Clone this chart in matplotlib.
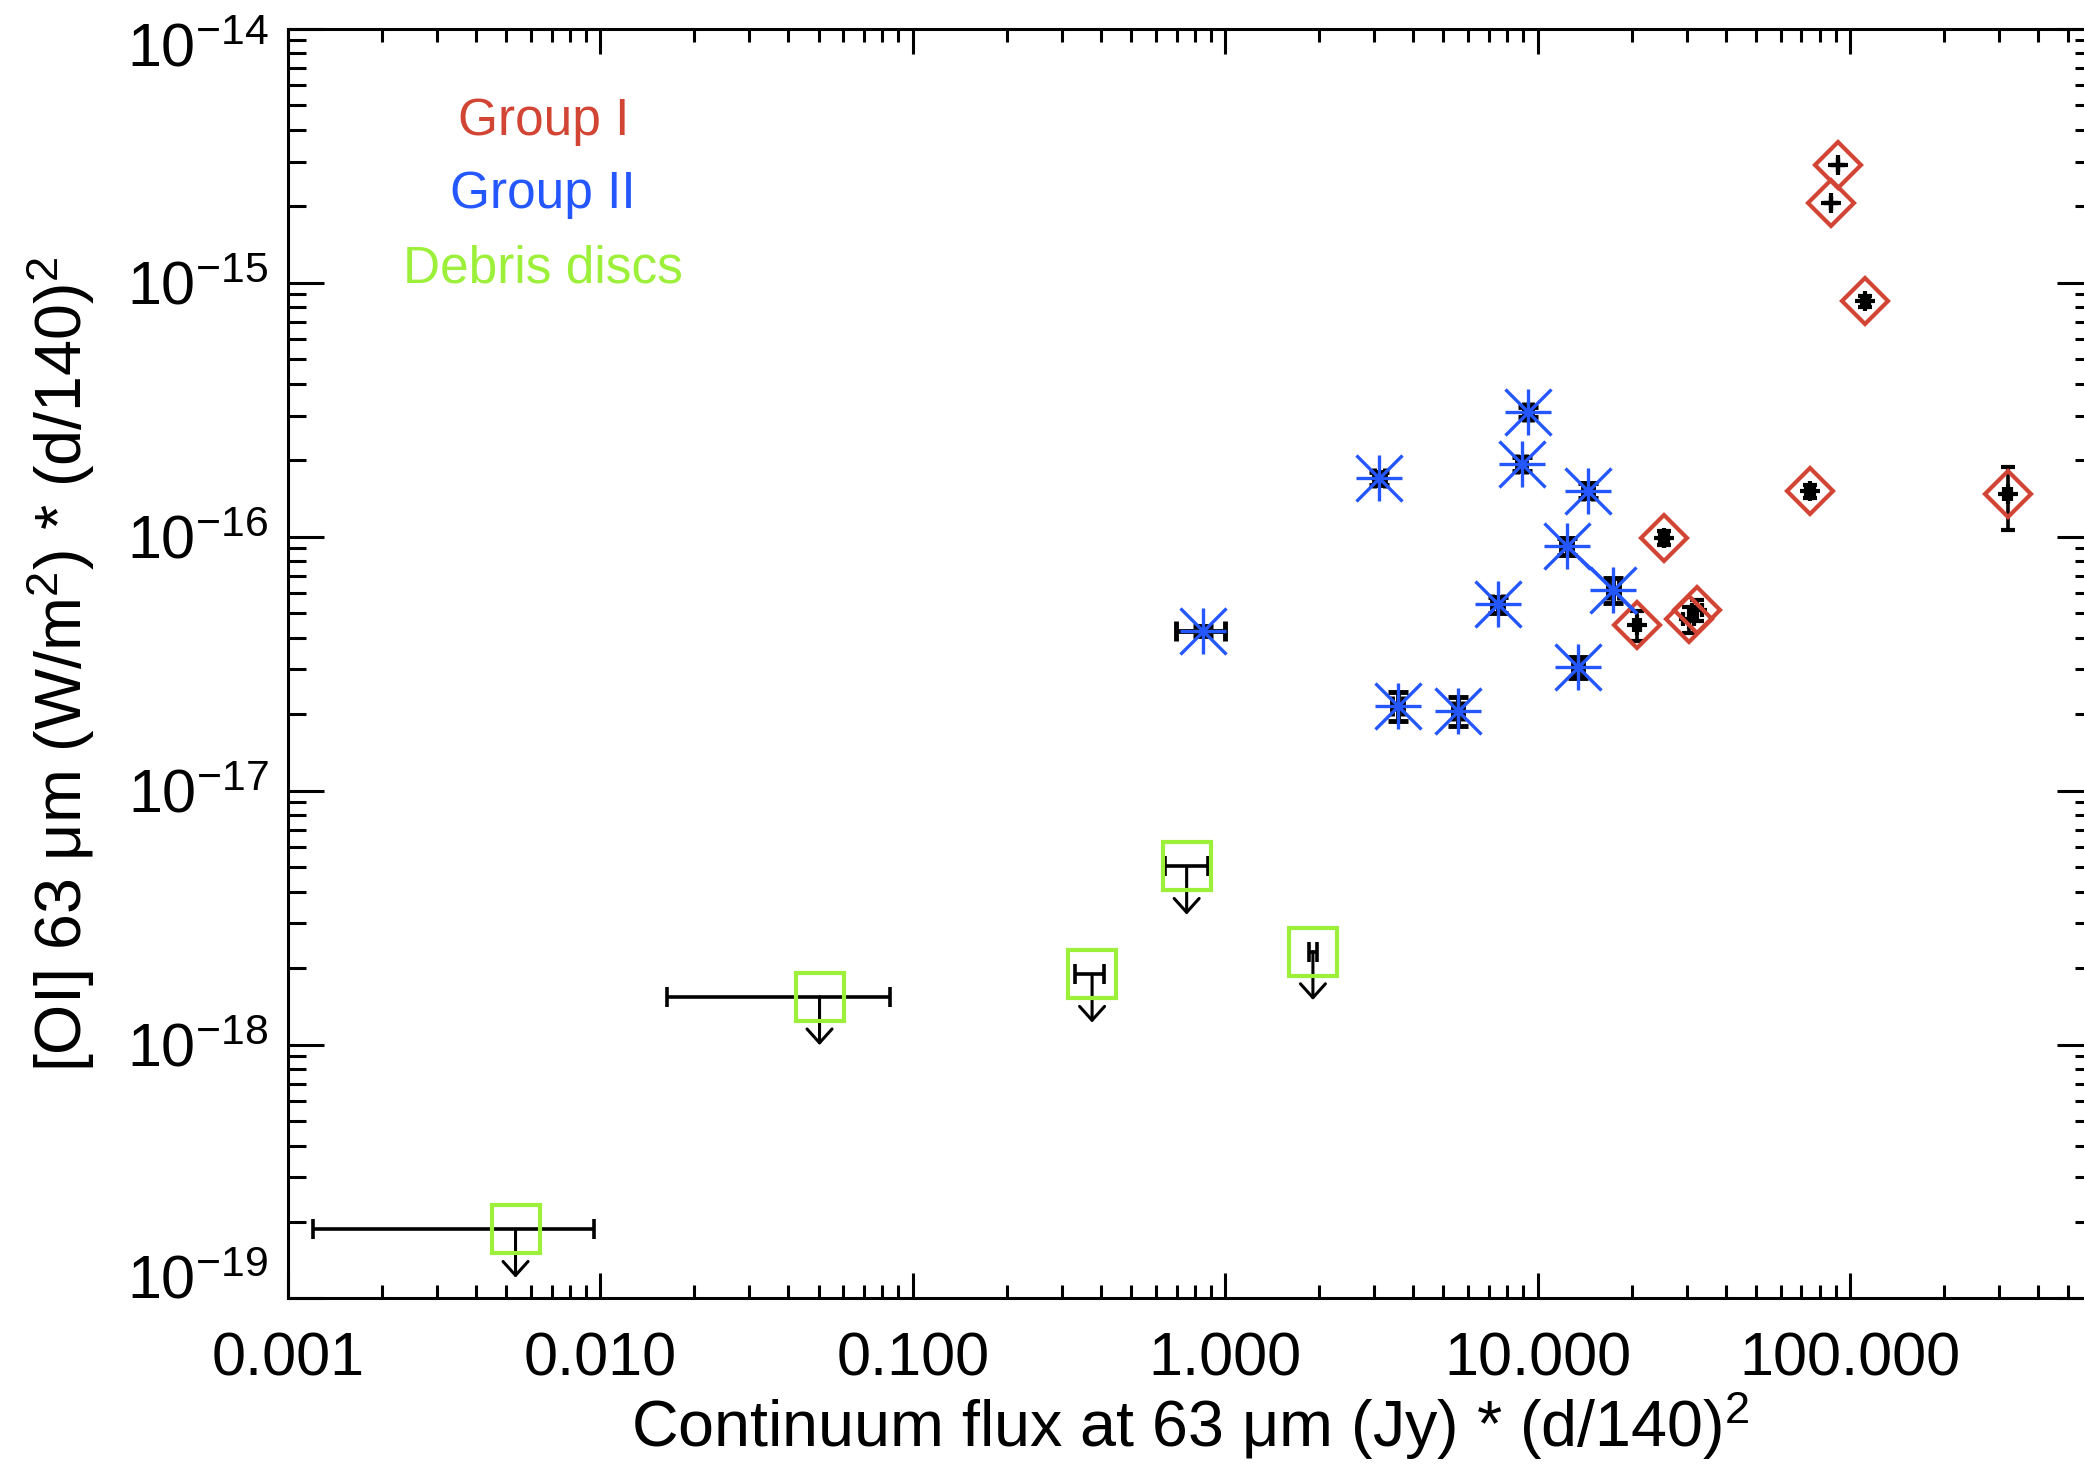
import matplotlib
matplotlib.use('Agg')
import matplotlib.pyplot as plt
import matplotlib.transforms as mtransforms
import numpy as np

plt.rcParams['font.family'] = ['Liberation Sans', 'DejaVu Sans']
plt.rcParams['mathtext.fontset'] = 'custom'
plt.rcParams['mathtext.rm'] = 'Liberation Sans'
plt.rcParams['mathtext.it'] = 'Liberation Sans'
plt.rcParams['mathtext.default'] = 'regular'

# Group I (red diamonds)
g1_x = [91.6, 87.0, 112.0, 74.5, 320.0, 25.4, 20.8, 30.5, 32.4]
g1_y = [2.92e-15, 2.06e-15, 8.45e-16, 1.51e-16, 1.47e-16, 9.9e-17, 4.5e-17, 4.73e-17, 5.15e-17]
g1_xerr = [0.0, 0.0, 3.0, 2.0, 8.0, 0.8, 0.5, 1.2, 1.2]
g1_yerr = [0.0, 0.0, 0.04e-15, 0.085e-16, 0.41e-16, 0.06e-16, 0.6e-17, 0.55e-17, 0.5e-17]

# Group II (blue asterisks)
g2_x = [0.847, 3.12, 9.33, 8.89, 14.5, 12.4, 17.5, 7.45, 13.5, 3.57, 5.56]
g2_y = [4.25e-17, 1.70e-16, 3.10e-16, 1.94e-16, 1.52e-16, 9.19e-17, 6.18e-17,
        5.41e-17, 3.07e-17, 2.16e-17, 2.06e-17]
g2_xerr = [0.15, 0.12, 0.3, 0.3, 0.5, 0.5, 0.7, 0.3, 0.5, 0.15, 0.2]
g2_yerr = [0.2e-17, 0.1e-16, 0.15e-16, 0.12e-16, 0.1e-16, 0.7e-17, 0.7e-17,
           0.4e-17, 0.3e-17, 0.28e-17, 0.27e-17]
# short blue connector
link_x = [12.4, 17.5, 20.7]
link_y = [9.19e-17, 6.18e-17, 5.03e-17]

# Debris discs (green squares, upper limits)
dd_x = [0.00535, 0.0503, 0.375, 0.753, 1.91]
dd_y = [1.87e-19, 1.54e-18, 1.89e-18, 5.03e-18, 2.32e-18]
dd_xlo = [0.00415, 0.034, 0.045, 0.113, 0.06]
dd_xhi = [0.00418, 0.0345, 0.035, 0.127, 0.06]

xticks = [0.001, 0.01, 0.1, 1, 10, 100]
xticklabels = ['0.001', '0.010', '0.100', '1.000', '10.000', '100.000']
yticks = [1e-19, 1e-18, 1e-17, 1e-16, 1e-15, 1e-14]

c_red = '#d24434'
c_blue = '#2457ff'
c_green = '#9cf03a'

fig = plt.figure(figsize=(20.84, 14.65), dpi=100)
ax = fig.add_axes([0.1382, 0.1137, 0.8661, 0.8666])
ax.set_xscale('log')
ax.set_yscale('log')
ax.set_xlim(0.001, 600)
ax.set_ylim(1e-19, 1e-14)

# group I
ax.errorbar(g1_x, g1_y, xerr=g1_xerr, yerr=g1_yerr, fmt='+', color='k', ms=15, mew=3,
            elinewidth=2.6, capsize=5, capthick=2.6, zorder=2)
ax.plot(g1_x, g1_y, 'D', ms=23, mfc='none', mec=c_red, mew=3, zorder=3)

# group II
ax.errorbar(g2_x, g2_y, xerr=g2_xerr, yerr=g2_yerr, fmt='none', ecolor='k',
            elinewidth=3.5, capsize=7, capthick=3.5, zorder=2)
ax.plot(link_x, link_y, '-', color=c_blue, lw=2.4, zorder=3)
ax.plot(g2_x, g2_y, '+', ms=33, mec=c_blue, mew=2.4, zorder=3)
ax.plot(g2_x, g2_y, 'x', ms=33, mec=c_blue, mew=2.4, zorder=3)

# debris discs
ax.errorbar(dd_x, dd_y, xerr=[dd_xlo, dd_xhi], fmt='none', ecolor='k',
            elinewidth=2.6, capsize=7, capthick=2.6, zorder=2)
for x, y in zip(dd_x, dd_y):
    ax.annotate('', xy=(x, y / 10 ** 0.19), xytext=(x, y),
                arrowprops=dict(arrowstyle='->, head_length=0.4, head_width=0.36',
                                lw=2.2, color='k', shrinkA=0, shrinkB=0,
                                mutation_scale=25), zorder=2)
ax.plot(dd_x, dd_y, 's', ms=34, mfc='none', mec=c_green, mew=3, zorder=3)

# legend text
ax.text(0.1414, 0.9165, 'Group I', color=c_red, fontsize=37, ha='center',
        va='baseline', transform=ax.transAxes)
ax.text(0.1414, 0.859, 'Group II', color=c_blue, fontsize=37, ha='center',
        va='baseline', transform=ax.transAxes)
ax.text(0.1414, 0.800, 'Debris discs', color=c_green, fontsize=37, ha='center',
        va='baseline', transform=ax.transAxes)

ax.set_xticks(xticks)
ax.set_xticklabels(xticklabels)
ax.set_yticks(yticks)
for s in ax.spines.values():
    s.set_linewidth(2.2)
ax.tick_params(axis='both', which='both', direction='in', top=True, right=True,
               width=2.2, labelsize=44)
ax.tick_params(axis='x', which='major', length=18, pad=24)
ax.tick_params(axis='x', which='minor', length=9.4)
ax.tick_params(axis='y', which='major', length=26, pad=14)
ax.tick_params(axis='y', which='minor', length=13)

# IDL keeps the end labels inside the axis range
ylabels = ax.yaxis.get_majorticklabels()
down = mtransforms.ScaledTranslation(0, -16 / 100, fig.dpi_scale_trans)
up = mtransforms.ScaledTranslation(0, 22 / 100, fig.dpi_scale_trans)
ylabels[-1].set_transform(ylabels[-1].get_transform() + down)
ylabels[0].set_transform(ylabels[0].get_transform() + up)

fig.text(0.571, 0.0123, r'Continuum flux at 63 μm (Jy) * (d/140)$^2$', fontsize=46.5,
         ha='center', va='baseline')
fig.text(0.029, 0.5468, r'[OI] 63 μm (W/m$^2$) * (d/140)$^2$', fontsize=46.5,
         ha='center', va='center', rotation=90)

fig.savefig('out.png', dpi=100)
